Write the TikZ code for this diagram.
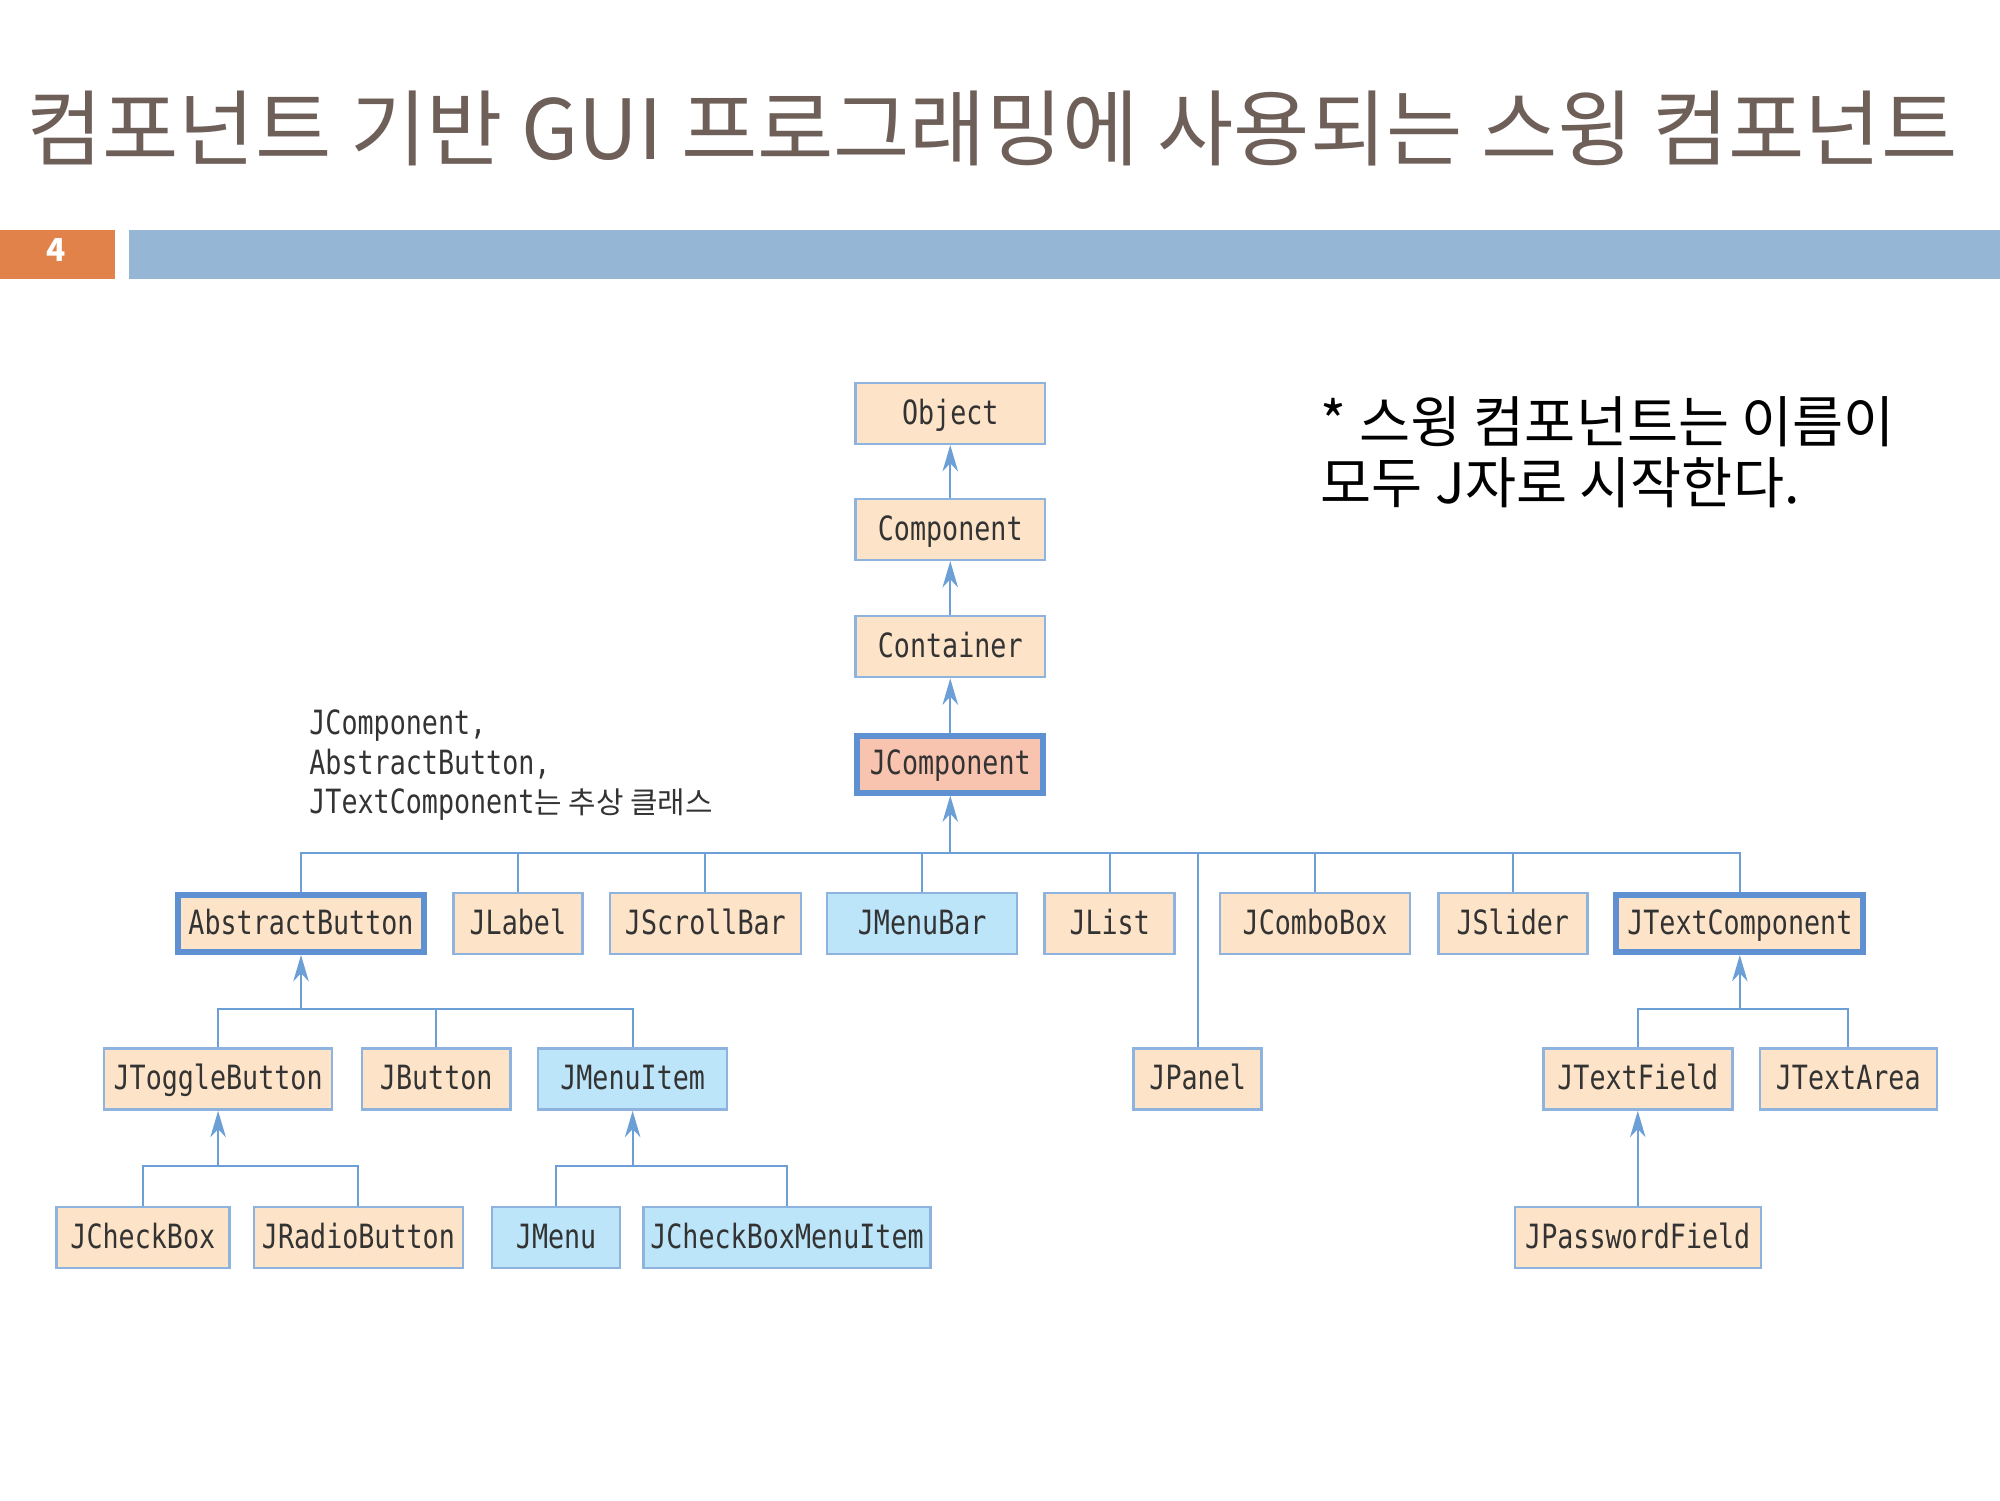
\documentclass[tikz,border=0pt]{standalone}
\usepackage{fontspec}
\setmainfont{Noto Sans CJK KR}
\newfontfamily\cjk{Noto Sans CJK KR}
\newfontfamily\boxmono[FakeStretch=0.8]{DejaVu Sans Mono}
\usetikzlibrary{arrows.meta}
\definecolor{titlegray}{HTML}{6E5F59}
\definecolor{pageorange}{HTML}{E0824A}
\definecolor{barblue}{HTML}{95B6D4}
\definecolor{edgeblue}{HTML}{8DB3DE}
\definecolor{thickblue}{HTML}{5E90D2}
\definecolor{lineblue}{HTML}{6C9FD6}
\definecolor{peach}{HTML}{FDE4C8}
\definecolor{sky}{HTML}{BDE5FA}
\definecolor{salmon}{HTML}{F8C4AF}
\begin{document}
\begin{tikzpicture}[x=0.012755cm,y=-0.012755cm,
    cls/.style={draw=edgeblue,line width=0.7pt,fill=peach,minimum height=6.1mm,
      inner sep=0pt,text height=6.6pt,text depth=0.4pt,text=black!80,
      font=\boxmono\fontsize{9.5}{11}\selectfont},
    menu/.style={cls,fill=sky},
    abstr/.style={cls,draw=thickblue,line width=1.7pt},
    wire/.style={lineblue,line width=0.6pt},
    arr/.style={wire,-{Stealth[length=7.5pt,width=4.4pt,inset=2.3pt]}}]
      \useasboundingbox (0,0) rectangle (1568,1176);
      \node[anchor=west,inner sep=0pt,text=titlegray,font=\fontsize{23.6}{28}\selectfont] (title) at (20,101)
        {컴포넌트 기반 GUI 프로그래밍에 사용되는 스윙 컴포넌트};
      \fill[pageorange] (0,180) rectangle (90,219);
      \node[text=white,font=\bfseries\fontsize{9}{10}\selectfont] (page) at (44,196) {4};
      \fill[barblue] (101,180) rectangle (1568,219);
      \node[anchor=north west,inner sep=0pt,align=left,font=\fontsize{15.8}{17.4}\selectfont] (note) at (1035,310)
        {* 스윙 컴포넌트는 이름이\\모두 J자로 시작한다.};
      \node[anchor=north west,inner sep=0pt,align=left,text=black!80,font=\boxmono\fontsize{9.5}{11.25}\selectfont] (absnote) at (242,556)
        {JComponent,\\AbstractButton,\\JTextComponent{\cjk\fontsize{8.5}{10}\selectfont 는 추상 클래스}};
      % top chain
      \node[cls,minimum width=19mm] (object) at (745,324) {Object};
      \node[cls,minimum width=19mm] (component) at (745,415) {Component};
      \node[cls,minimum width=19mm] (container) at (745,507) {Container};
      \node[abstr,fill=salmon,minimum width=18.6mm,minimum height=5.7mm] (jcomponent) at (745,599) {JComponent};
      \draw[arr] (component) -- (object);
      \draw[arr] (container) -- (component);
      \draw[arr] (jcomponent.north) -- (container);
      % first row
      \node[abstr,minimum width=24.6mm,minimum height=5.7mm] (abstractbutton) at (236,724) {AbstractButton};
      \node[cls,minimum width=12.9mm] (jlabel) at (406,724) {JLabel};
      \node[cls,minimum width=19.1mm] (jscrollbar) at (553,724) {JScrollBar};
      \node[menu,minimum width=19mm] (jmenubar) at (723,724) {JMenuBar};
      \node[cls,minimum width=13mm] (jlist) at (870,724) {JList};
      \node[cls,minimum width=19mm] (jcombobox) at (1031,724) {JComboBox};
      \node[cls,minimum width=14.9mm] (jslider) at (1186,724) {JSlider};
      \node[abstr,minimum width=24.7mm,minimum height=5.7mm] (jtextcomponent) at (1364,724) {JTextComponent};
      \node[cls,minimum width=12.8mm] (jpanel) at (939,846) {JPanel};
      \coordinate (bus) at (745,669);
      \draw[arr] (bus) -- (jcomponent.south);
      \draw[wire] (abstractbutton.north) |- (bus) -| (jtextcomponent.north);
      \draw[wire] (jlabel) -- (jlabel |- bus);
      \draw[wire] (jscrollbar) -- (jscrollbar |- bus);
      \draw[wire] (jmenubar) -- (jmenubar |- bus);
      \draw[wire] (jlist) -- (jlist |- bus);
      \draw[wire] (jcombobox) -- (jcombobox |- bus);
      \draw[wire] (jslider) -- (jslider |- bus);
      \draw[wire] (jpanel) -- (jpanel |- bus);
      % buttons and menus
      \node[cls,minimum width=22.8mm] (jtogglebutton) at (171,846) {JToggleButton};
      \node[cls,minimum width=14.9mm] (jbutton) at (342,846) {JButton};
      \node[menu,minimum width=18.9mm] (jmenuitem) at (496,846) {JMenuItem};
      \coordinate (btnbus) at (236,791);
      \draw[arr] (btnbus) -- (abstractbutton.south);
      \draw[wire] (jtogglebutton.north) |- (btnbus) -| (jmenuitem.north);
      \draw[wire] (jbutton) -- (jbutton |- btnbus);
      \node[cls,minimum width=17.3mm] (jcheckbox) at (112,970) {JCheckBox};
      \node[cls,minimum width=20.9mm] (jradiobutton) at (281,970) {JRadioButton};
      \node[menu,minimum width=12.8mm] (jmenu) at (436,970) {JMenu};
      \node[menu,minimum width=28.7mm] (jcheckboxmenuitem) at (617,970) {JCheckBoxMenuItem};
      \coordinate (togglebus) at (171,914);
      \coordinate (itembus) at (496,914);
      \draw[arr] (togglebus) -- (jtogglebutton.south);
      \draw[wire] (jcheckbox.north) |- (togglebus) -| (jradiobutton.north);
      \draw[arr] (itembus) -- (jmenuitem.south);
      \draw[wire] (jmenu.north) |- (itembus) -| (jcheckboxmenuitem.north);
      % text components
      \node[cls,minimum width=18.9mm] (jtextfield) at (1284,846) {JTextField};
      \node[cls,minimum width=17.7mm] (jtextarea) at (1449,846) {JTextArea};
      \node[cls,minimum width=24.6mm] (jpasswordfield) at (1284,970) {JPasswordField};
      \coordinate (textbus) at (1364,791);
      \draw[arr] (textbus) -- (jtextcomponent.south);
      \draw[wire] (jtextfield.north) |- (textbus) -| (jtextarea.north);
      \draw[arr] (jpasswordfield) -- (jtextfield);
\end{tikzpicture}
\end{document}
